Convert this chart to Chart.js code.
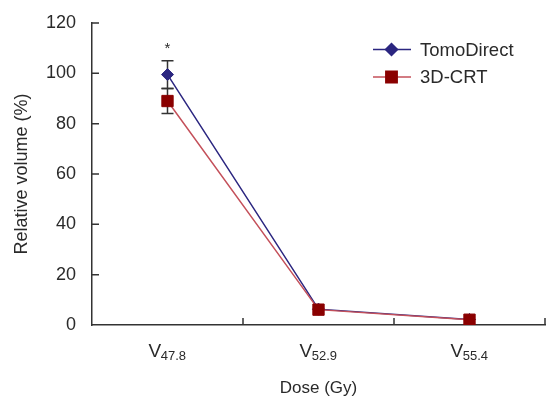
<!DOCTYPE html>
<html lang="en">
<head>
  <meta charset="UTF-8">
  <title>Relative volume by dose</title>
  <script src="https://cdn.jsdelivr.net/npm/chart.js"></script>
  <style>
    body { margin: 0; background: #fff; }
    #wrap { width: 546px; height: 399px; }
  </style>
</head>
<body>
  <div id="wrap"><canvas id="chart"></canvas></div>

  <script>
    const doseLevels = ['47.8', '52.9', '55.4'];   // shown as V with subscript
    const tomoValues = [99.5, 6.3, 2.2];
    const crtValues = [89, 6.1, 2.1];
    const tomoErr = [5.5, 0, 0];
    const crtErr = [5, 0, 0];
    const significant = [true, false, false];
    const yTicks = { min: 0, max: 120, step: 20 };

    const FONT = 'Liberation Sans, Arial, sans-serif';
    const INK = '#2a2a2a';
    const TOMO = '#2b2680';
    const CRT_LINE = '#c4505a';
    const CRT_MARK = '#8a0000';

    // error bars, star, inward ticks, category labels, titles, legend
    const decor = {
      id: 'decor',
      beforeDatasetsDraw(chart) {
        const ctx = chart.ctx, y = chart.scales.y, x = chart.scales.x;
        ctx.save();
        ctx.strokeStyle = '#333';
        ctx.lineWidth = 1.5;
        [[tomoValues, tomoErr], [crtValues, crtErr]].forEach(([vals, errs]) => {
          vals.forEach((v, i) => {
            if (!errs[i]) return;
            const px = x.getPixelForValue(i);
            const top = y.getPixelForValue(v + errs[i]);
            const bot = y.getPixelForValue(v - errs[i]);
            ctx.beginPath();
            ctx.moveTo(px, top); ctx.lineTo(px, bot);
            ctx.moveTo(px - 6, top); ctx.lineTo(px + 6, top);
            ctx.moveTo(px - 6, bot); ctx.lineTo(px + 6, bot);
            ctx.stroke();
          });
        });
        ctx.restore();
      },
      afterDraw(chart) {
        const ctx = chart.ctx, y = chart.scales.y, x = chart.scales.x;
        const area = chart.chartArea;
        ctx.save();
        ctx.strokeStyle = '#333';
        ctx.lineWidth = 1.5;
        ctx.beginPath();
        for (let v = yTicks.min + yTicks.step; v <= yTicks.max; v += yTicks.step) {
          const py = y.getPixelForValue(v);
          ctx.moveTo(area.left, py); ctx.lineTo(area.left + 7, py);
        }
        for (let i = 0; i < doseLevels.length; i++) {
          const px = x.getPixelForValue(i + 0.5);
          ctx.moveTo(px, area.bottom); ctx.lineTo(px, area.bottom - 7);
        }
        ctx.stroke();

        ctx.fillStyle = INK;
        ctx.textBaseline = 'alphabetic';
        // star marks
        ctx.font = '15px ' + FONT;
        ctx.textAlign = 'center';
        significant.forEach((s, i) => {
          if (!s) return;
          const top = Math.max(tomoValues[i] + tomoErr[i], crtValues[i] + crtErr[i]);
          ctx.fillText('*', x.getPixelForValue(i), y.getPixelForValue(top) - 8);
        });

        // category labels V with subscript
        doseLevels.forEach((d, i) => {
          const px = x.getPixelForValue(i);
          ctx.font = '19px ' + FONT;
          const wV = ctx.measureText('V').width;
          ctx.font = '13px ' + FONT;
          const wS = ctx.measureText(d).width;
          const start = px - (wV + wS) / 2;
          ctx.textAlign = 'left';
          ctx.font = '19px ' + FONT;
          ctx.fillText('V', start, 357);
          ctx.font = '13px ' + FONT;
          ctx.fillText(d, start + wV - 0.5, 360);
        });

        // axis titles
        ctx.font = '17px ' + FONT;
        ctx.textAlign = 'center';
        ctx.fillText('Dose (Gy)', (area.left + area.right) / 2, 393);
        ctx.save();
        ctx.font = '18px ' + FONT;
        ctx.translate(27, (area.top + area.bottom) / 2);
        ctx.rotate(-Math.PI / 2);
        ctx.fillText('Relative volume (%)', 0, 0);
        ctx.restore();

        // legend
        const items = chart.data.datasets.map(ds => ({ text: ds.label, line: ds.borderColor, mark: ds.pointBackgroundColor, style: ds.pointStyle, r: ds.pointRadius }));
        items.forEach((it, k) => {
          const ly = 49.5 + k * 27.5;
          ctx.strokeStyle = it.line;
          ctx.lineWidth = 1.5;
          ctx.beginPath();
          ctx.moveTo(373, ly); ctx.lineTo(411, ly);
          ctx.stroke();
          ctx.fillStyle = it.mark;
          ctx.strokeStyle = it.mark;
          Chart.helpers.drawPoint(ctx, { pointStyle: it.style, radius: it.r, borderWidth: 1 }, 391.5, ly);
          ctx.fillStyle = INK;
          ctx.font = '18.5px ' + FONT;
          ctx.textAlign = 'left';
          ctx.textBaseline = 'middle';
          ctx.fillText(it.text, 420, ly + 1);
        });
        ctx.restore();
      }
    };

    new Chart(document.getElementById('chart'), {
      type: 'line',
      data: {
        labels: doseLevels.map(d => 'V' + d),
        datasets: [
          {
            label: 'TomoDirect',
            data: tomoValues,
            borderColor: TOMO,
            borderWidth: 1.5,
            pointStyle: 'rectRot',
            pointRadius: 6,
            pointBackgroundColor: TOMO,
            pointBorderColor: TOMO,
            pointBorderWidth: 1,
            order: 2
          },
          {
            label: '3D-CRT',
            data: crtValues,
            borderColor: CRT_LINE,
            borderWidth: 1.5,
            pointStyle: 'rect',
            pointRadius: 8,
            pointBackgroundColor: CRT_MARK,
            pointBorderColor: CRT_MARK,
            pointBorderWidth: 1,
            order: 1
          }
        ]
      },
      options: {
        responsive: true,
        maintainAspectRatio: false,
        animation: false,
        layout: { autoPadding: false, padding: { top: 23, right: 1, left: 0, bottom: 0 } },
        plugins: { legend: { display: false }, tooltip: { enabled: false } },
        scales: {
          x: {
            type: 'category',
            offset: true,
            grid: { display: false, drawTicks: false, offset: true },
            border: { display: true, color: '#333', width: 1.5 },
            ticks: { display: false },
            afterFit: s => { s.height = 74; s.paddingLeft = 0; s.paddingRight = 0; }
          },
          y: {
            min: yTicks.min,
            max: yTicks.max,
            grid: { display: false, drawTicks: false },
            border: { display: true, color: '#333', width: 1.5 },
            ticks: {
              stepSize: yTicks.step,
              padding: 16,
              color: INK,
              font: { family: FONT, size: 18 }
            },
            afterFit: s => { s.width = 92; s.paddingTop = 0; s.paddingBottom = 0; }
          }
        }
      },
      plugins: [decor]
    });
  </script>
</body>
</html>
